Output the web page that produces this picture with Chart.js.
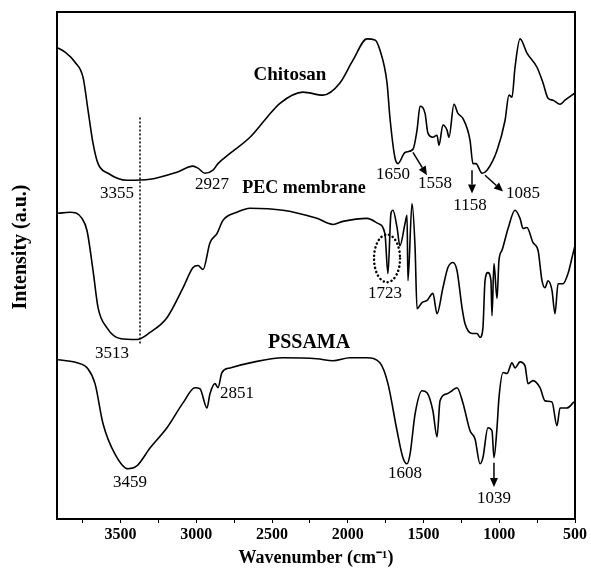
<!DOCTYPE html>
<html>
<head>
<meta charset="utf-8">
<script src="https://cdn.jsdelivr.net/npm/chart.js@4.4.1/dist/chart.umd.min.js"></script>
<style>
  html, body { margin: 0; padding: 0; background: #fff; }
  #wrap { width: 591px; height: 581px; }
</style>
</head>
<body>
<div id="wrap"><canvas id="myChart" width="591" height="581"></canvas></div>
<script>
// FTIR spectra (wavenumber in cm-1, intensity in a.u.)
var chitosanWn = [3913, 3867, 3801, 3748, 3715, 3682, 3649, 3583, 3458, 3306, 3128, 3022, 2989, 2943, 2890, 2857, 2778, 2646, 2534, 2448, 2296, 2164, 2052, 1966, 1873, 1821, 1788, 1741, 1722, 1689, 1669, 1622, 1570, 1543, 1523, 1490, 1471, 1438, 1411, 1398, 1372, 1345, 1332, 1299, 1273, 1240, 1193, 1174, 1154, 1114, 1081, 1015, 962, 936, 916, 896, 863, 817, 751, 711, 678, 645, 599, 566, 520, 500];
var chitosanInt = [92.9, 92.1, 90.1, 87.1, 80.6, 74.1, 70.1, 68.2, 66.8, 67.0, 68.4, 69.6, 69.2, 68.2, 68.8, 70.1, 72.1, 75.3, 79.2, 82.0, 84.2, 83.6, 86.0, 90.5, 94.7, 94.5, 92.5, 86.0, 79.2, 71.3, 70.1, 72.3, 72.9, 76.7, 81.4, 80.0, 76.1, 75.3, 75.7, 73.7, 77.7, 76.7, 75.3, 81.8, 80.0, 79.0, 74.7, 70.1, 70.1, 68.2, 68.8, 72.7, 78.6, 83.6, 83.2, 89.1, 94.7, 91.9, 89.1, 86.0, 83.0, 82.6, 81.8, 82.6, 83.6, 84.0];

var pecWn = [3913, 3834, 3755, 3722, 3682, 3649, 3590, 3504, 3392, 3306, 3194, 3088, 3022, 2989, 2956, 2910, 2864, 2824, 2732, 2646, 2428, 2204, 2098, 2032, 1873, 1801, 1755, 1735, 1715, 1702, 1675, 1656, 1622, 1609, 1603, 1576, 1556, 1543, 1510, 1477, 1438, 1411, 1372, 1339, 1306, 1279, 1246, 1226, 1180, 1147, 1127, 1108, 1094, 1075, 1055, 1048, 1035, 1015, 1002, 982, 942, 896, 863, 843, 817, 777, 744, 718, 698, 678, 652, 632, 612, 579, 546, 513, 500];
var pecInt = [60.3, 60.5, 59.3, 56.9, 49.0, 41.7, 37.7, 35.6, 35.4, 36.8, 39.7, 45.6, 49.6, 50.0, 49.2, 54.5, 56.3, 58.9, 60.5, 61.3, 60.9, 59.3, 58.1, 58.7, 59.3, 58.3, 56.3, 48.4, 60.3, 60.9, 57.5, 53.9, 58.3, 59.9, 47.0, 62.2, 53.6, 41.5, 42.7, 43.1, 44.5, 40.5, 45.6, 49.6, 50.6, 49.0, 41.7, 38.5, 36.6, 36.6, 35.8, 37.7, 47.0, 48.6, 47.0, 40.1, 50.4, 43.5, 51.0, 53.0, 57.3, 60.9, 59.3, 57.3, 57.5, 54.5, 53.0, 47.0, 45.6, 47.0, 45.1, 40.5, 46.4, 46.4, 48.4, 52.4, 53.9];

var pssamaWn = [3913, 3788, 3715, 3669, 3616, 3537, 3451, 3392, 3306, 3194, 3088, 3009, 2976, 2930, 2910, 2877, 2857, 2831, 2778, 2646, 2428, 2204, 2098, 1986, 1873, 1788, 1735, 1675, 1636, 1609, 1589, 1556, 1510, 1477, 1438, 1411, 1391, 1345, 1312, 1279, 1240, 1193, 1160, 1127, 1108, 1075, 1048, 1035, 1015, 1002, 975, 949, 916, 896, 863, 830, 810, 777, 731, 698, 652, 619, 599, 553, 507];
var pssamaInt = [31.4, 30.8, 29.6, 26.7, 18.8, 12.8, 9.9, 10.5, 14.0, 18.0, 22.9, 25.9, 25.7, 21.9, 24.7, 26.7, 25.9, 28.9, 29.8, 30.8, 31.8, 31.6, 31.2, 31.8, 31.8, 30.8, 26.7, 17.4, 12.1, 10.9, 12.8, 20.7, 25.3, 24.9, 21.3, 16.2, 23.3, 24.7, 25.3, 25.9, 22.9, 17.4, 15.8, 10.9, 12.1, 18.0, 17.4, 12.1, 18.0, 23.9, 28.9, 28.7, 30.8, 29.8, 31.0, 30.2, 26.7, 27.3, 25.9, 23.3, 23.1, 18.4, 21.9, 21.9, 23.1];

// x axis ticks
var majorTicks = [500, 1000, 1500, 2000, 2500, 3000, 3500];
var minorTicks = [750, 1250, 1750, 2250, 2750, 3250, 3750];

// sample names (wn, intensity at text centre)
var sampleNames = ["Chitosan", "PEC membrane", "PSSAMA"];
var sampleNameWn = [2382, 2289, 2256];
var sampleNameInt = [87.5, 65.2, 34.8];
var sampleNameSize = [19, 18, 20];

// peak labels
var peakLabels = ["3355", "2927", "1650", "1558", "1158", "1085", "1723", "3513", "3459", "2851", "1608", "1039"];
var peakLabelWn = [3524, 2897, 1702, 1424, 1193, 843, 1755, 3557, 3438, 2732, 1622, 1035];
var peakLabelInt = [64.2, 66.0, 68.0, 66.2, 61.8, 64.2, 44.5, 32.6, 7.1, 24.7, 8.9, 4.1];

// arrows: start -> end
var arrowFromWn = [1570, 1180, 1094, 1035];
var arrowFromInt = [72.3, 68.8, 67.8, 11.1];
var arrowToWn = [1477, 1180, 975, 1035];
var arrowToInt = [67.8, 64.2, 64.6, 6.3];

// dotted marker line at 3355 and the dotted ring round 1723
var markerWn = 3372;
var markerInt = [79.2, 34.2];
var ringWn = 1741, ringInt = 51.4, ringRx = 86, ringRy = 4.7;

var serif = "'Liberation Serif', 'Times New Roman', serif";

function makeSet(wn, inten) {
    return {
        data: wn.map((w, i) => ({ x: w, y: inten[i] })),
        borderColor: '#000',
        borderWidth: 1.6,
        pointRadius: 0,
        cubicInterpolationMode: 'monotone',
        fill: false
    };
}

var annotations = {
    id: 'annotations',
    afterDatasetsDraw: function (chart) {
        var ctx = chart.ctx;
        var x = chart.scales.x, y = chart.scales.y;
        var a = chart.chartArea;
        ctx.save();

        // frame
        ctx.strokeStyle = '#000';
        ctx.lineWidth = 2;
        ctx.strokeRect(a.left, a.top, a.right - a.left, a.bottom - a.top);

        ctx.fillStyle = '#000';
        ctx.textAlign = 'center';
        ctx.textBaseline = 'middle';

        // y title
        ctx.save();
        ctx.translate(21, 247);
        ctx.rotate(-Math.PI / 2);
        ctx.font = 'bold 20px ' + serif;
        ctx.fillText('Intensity (a.u.)', 0, 0);
        ctx.restore();

        sampleNames.forEach((t, i) => {
            ctx.font = 'bold ' + sampleNameSize[i] + 'px ' + serif;
            ctx.fillText(t, x.getPixelForValue(sampleNameWn[i]), y.getPixelForValue(sampleNameInt[i]));
        });

        ctx.font = '17px ' + serif;
        peakLabels.forEach((t, i) => {
            ctx.fillText(t, x.getPixelForValue(peakLabelWn[i]), y.getPixelForValue(peakLabelInt[i]));
        });

        // arrows
        ctx.lineWidth = 1.5;
        arrowFromWn.forEach((w, i) => {
            var x1 = x.getPixelForValue(w), y1 = y.getPixelForValue(arrowFromInt[i]);
            var x2 = x.getPixelForValue(arrowToWn[i]), y2 = y.getPixelForValue(arrowToInt[i]);
            var ang = Math.atan2(y2 - y1, x2 - x1);
            var hl = 9, hw = 4;
            var bx = x2 - hl * Math.cos(ang), by = y2 - hl * Math.sin(ang);
            ctx.beginPath();
            ctx.moveTo(x1, y1);
            ctx.lineTo(bx, by);
            ctx.stroke();
            ctx.beginPath();
            ctx.moveTo(x2, y2);
            ctx.lineTo(bx + hw * Math.sin(ang), by - hw * Math.cos(ang));
            ctx.lineTo(bx - hw * Math.sin(ang), by + hw * Math.cos(ang));
            ctx.closePath();
            ctx.fill();
        });

        // dotted marker line
        ctx.setLineDash([2, 2]);
        ctx.lineWidth = 1.5;
        var mx = x.getPixelForValue(markerWn);
        ctx.beginPath();
        ctx.moveTo(mx, y.getPixelForValue(markerInt[0]));
        ctx.lineTo(mx, y.getPixelForValue(markerInt[1]));
        ctx.stroke();

        // dotted ring
        ctx.setLineDash([0.1, 4]);
        ctx.lineCap = 'round';
        ctx.lineWidth = 2.5;
        var cx = x.getPixelForValue(ringWn), cy = y.getPixelForValue(ringInt);
        var rx = Math.abs(x.getPixelForValue(ringWn + ringRx) - cx);
        var ry = Math.abs(y.getPixelForValue(ringInt + ringRy) - cy);
        ctx.beginPath();
        ctx.ellipse(cx, cy, rx, ry, 0, 0, Math.PI * 2);
        ctx.stroke();

        ctx.restore();
    }
};

var ctx = document.getElementById("myChart").getContext("2d");
var myChart = new Chart(ctx, {
    type: 'line',
    data: {
        datasets: [
            makeSet(chitosanWn, chitosanInt),
            makeSet(pecWn, pecInt),
            makeSet(pssamaWn, pssamaInt)
        ]
    },
    plugins: [annotations],
    options: {
        responsive: false,
        animation: false,
        layout: { padding: { top: 12, right: 16, left: 0, bottom: 12 } },
        plugins: { legend: { display: false }, tooltip: { enabled: false } },
        scales: {
            x: {
                type: 'linear',
                reverse: true,
                min: 500,
                max: 3920,
                afterBuildTicks: function (scale) {
                    scale.ticks = majorTicks.concat(minorTicks).sort((p, q) => p - q).map(v => ({ value: v }));
                },
                afterFit: function (scale) { scale.height = 50; },
                grid: { drawOnChartArea: false, tickLength: 4, color: '#000', lineWidth: 1 },
                border: { display: false },
                ticks: {
                    autoSkip: false,
                    maxRotation: 0,
                    padding: 2,
                    color: '#000',
                    font: { family: serif, size: 16, weight: 'bold' },
                    callback: function (v) { return v % 500 === 0 ? String(v) : ''; }
                },
                title: {
                    display: true,
                    text: 'Wavenumber (cm\u207B\u00B9)',
                    color: '#000',
                    font: { family: serif, size: 18, weight: 'bold' },
                    padding: { top: 6, bottom: 0 }
                }
            },
            y: {
                min: 0,
                max: 100,
                afterFit: function (scale) { scale.width = 57; },
                grid: { display: false },
                border: { display: false },
                ticks: { display: false },
                title: { display: false }
            }
        }
    }
});
</script>
</body>
</html>
